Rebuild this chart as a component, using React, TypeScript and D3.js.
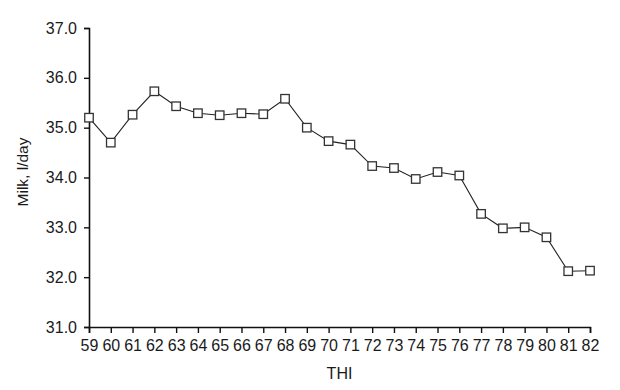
import { useEffect, useRef } from "react";
import * as d3 from "d3";

const thi = [59, 60, 61, 62, 63, 64, 65, 66, 67, 68, 69, 70, 71, 72, 73, 74, 75, 76, 77, 78, 79, 80, 81, 82];
const milk = [35.2, 34.7, 35.26, 35.73, 35.43, 35.29, 35.25, 35.29, 35.27, 35.58, 35.0, 34.73, 34.66, 34.23, 34.19, 33.97, 34.11, 34.04, 33.27, 32.98, 33.0, 32.8, 32.12, 32.13];
const yTicks = [31, 32, 33, 34, 35, 36, 37];

const width = 620;
const height = 390;

export default function App() {
  const svgRef = useRef<SVGSVGElement>(null);

  useEffect(() => {
    const margin = { top: 28, right: 30, bottom: 63, left: 89 },
      wt = width - margin.left - margin.right,
      ht = height - margin.top - margin.bottom;

    d3.select(svgRef.current).selectAll("*").remove();

    const svg = d3.select(svgRef.current)
      .append("g")
      .attr("transform", `translate(${margin.left},${margin.top})`);

    const x = d3.scaleLinear().domain([59, 82]).range([0, wt]);
    const y = d3.scaleLinear().domain([31, 37]).range([ht, 0]);

    const font = "'Liberation Sans', Arial, sans-serif";

    const xAxis = svg.append("g")
      .attr("transform", `translate(0,${ht})`)
      .call(d3.axisBottom(x).tickValues(thi).tickFormat(d3.format("d")).tickSizeOuter(0).tickSize(6).tickPadding(7));

    const yAxis = svg.append("g")
      .call(d3.axisLeft(y).tickValues(yTicks).tickFormat(d3.format(".1f")).tickSizeOuter(0).tickSize(5).tickPadding(7));

    [xAxis, yAxis].forEach(a => {
      a.select(".domain").attr("stroke", "#111").attr("stroke-width", 1.6);
      a.selectAll(".tick line").attr("stroke", "#111").attr("stroke-width", 1.4);
      a.selectAll(".tick text")
        .attr("fill", "#1a1a1a")
        .style("font-family", font)
        .style("font-size", "16px");
    });

    const line = d3.line<number>()
      .x((_, i) => x(thi[i]))
      .y(d => y(d));

    svg.append("path")
      .datum(milk)
      .attr("fill", "none")
      .attr("stroke", "#222")
      .attr("stroke-width", 1.1)
      .attr("d", line);

    const s = 8.5;
    svg.selectAll("rect.pt")
      .data(milk)
      .join("rect")
      .attr("class", "pt")
      .attr("x", (_, i) => x(thi[i]) - s / 2)
      .attr("y", d => y(d) - s / 2)
      .attr("width", s)
      .attr("height", s)
      .attr("fill", "white")
      .attr("stroke", "#333")
      .attr("stroke-width", 1.3);

    // x-axis label
    svg.append("text")
      .attr("text-anchor", "middle")
      .attr("x", wt / 2)
      .attr("y", ht + 52)
      .attr("fill", "#1a1a1a")
      .style("font-family", font)
      .style("font-size", "16px")
      .text("THI");

    // y-axis label
    svg.append("text")
      .attr("text-anchor", "middle")
      .attr("transform", "rotate(-90)")
      .attr("x", -144)
      .attr("y", -61)
      .attr("fill", "#1a1a1a")
      .style("font-family", font)
      .style("font-size", "15.5px")
      .text("Milk, l/day");
  }, []);

  return (
    <svg
      ref={svgRef}
      width={width}
      height={height}
      style={{ position: "absolute", left: 0, top: 0, background: "white" }}
    />
  );
}
